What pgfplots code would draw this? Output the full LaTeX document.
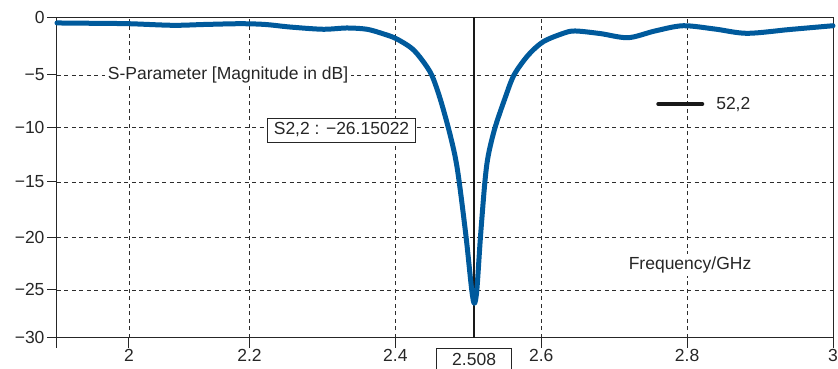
\documentclass[border=0pt]{standalone}
\usepackage{pgfplots}
\pgfplotsset{compat=1.18}
\usepackage{fontspec}
\setmainfont{Liberation Sans}
\definecolor{curveblue}{RGB}{0,90,156}
\definecolor{gridc}{RGB}{45,45,45}
\newcommand{\fs}{\fontsize{17.5bp}{21bp}\selectfont}
\begin{document}
\begin{tikzpicture}
\begin{axis}[
  scale only axis,
  width=776bp, height=320.4bp,
  xmin=1.9361, xmax=3, ymin=-30, ymax=0,
  clip=false,
  axis line style={draw=black!85, line width=1bp},
  xtick={2.0348,2.2,2.4,2.6,2.8,3},
  xticklabels={2,2.2,2.4,2.6,2.8,3},
  ytick={-30,-25.53,-20.6,-15.42,-10.34,-5.40,0},
  yticklabels={−30,−25,−20,−15,−10,−5,0},
  extra x ticks={1.9361}, extra x tick labels={}, extra x tick style={grid=none},
  tick align=outside, major tick length=10bp,
  tick style={black!85, line width=1bp},
  xtick pos=bottom, ytick pos=left,
  grid=major,
  major grid style={gridc, line width=0.8bp, dash pattern=on 4bp off 3.5bp},
  tick label style={font=\fs, text=black!85},
  xticklabel style={yshift=2bp},
  yticklabel style={xshift=1bp},
  legend style={at={(rel axis cs:0.772,0.7294)}, anchor=west, draw=none, fill=none,
    inner sep=0pt, font=\fs, text=black!85,
    cells={anchor=west}},
  legend image code/.code={\draw[#1] (0bp,0bp) -- (44bp,0bp); \path (54bp,0bp);},
]
\addplot[black!90, line width=1.8bp, forget plot] coordinates {(2.508,-30) (2.508,0)};
\addplot[curveblue, line width=5bp, line cap=round, line join=round, smooth, tension=0.5, forget plot] coordinates {
(1.9361,-0.53) (1.9841,-0.56) (2.0348,-0.60) (2.0952,-0.75) (2.139,-0.67) (2.1872,-0.60)
(2.2213,-0.67) (2.2556,-0.91) (2.3008,-1.12) (2.3337,-1.00) (2.3611,-1.12) (2.383,-1.54)
(2.4009,-1.99) (2.4224,-2.90) (2.4366,-4.00) (2.4498,-5.40) (2.4612,-7.58)
(2.4726,-10.34) (2.4815,-12.89) (2.4873,-15.3) (2.4969,-20.54) (2.5047,-25.53) (2.5083,-26.78)
(2.5117,-25.53) (2.5167,-20.54) (2.5229,-15.3) (2.5275,-12.89) (2.5366,-10.34) (2.5503,-7.58)
(2.5627,-5.40) (2.5823,-3.53) (2.6029,-2.28) (2.6303,-1.50) (2.6463,-1.28) (2.6806,-1.52)
(2.719,-1.91) (2.756,-1.28) (2.7944,-0.79) (2.8382,-1.10) (2.8821,-1.50) (2.941,-1.14)
(3.0,-0.79)};
\addlegendimage{black!90, line width=4bp, line cap=round}
\addlegendentry{52,2}
\node[fill=white, inner sep=3bp, text=black!85, font=\fs] at (axis cs:2.1706,-5.40) {S-Parameter [Magnitude in dB]};
\node[fill=white, draw=black!85, line width=0.8bp, inner xsep=6.5bp, inner ysep=2bp, minimum height=24bp, text=black!85, font=\fs] at (axis cs:2.3262,-10.55) {S2,2 : −26.15022};
\node[fill=white, inner sep=3bp, text=black!85, font=\fs] at (axis cs:2.804,-23.19) {Frequency/GHz};
\node[fill=white, draw=black!85, line width=0.8bp, anchor=north, minimum width=75bp, inner ysep=5bp, yshift=-10.6bp, text=black!85, font=\fs] at (axis cs:2.508,-30) {2.508};
\end{axis}
\pgfresetboundingbox
\useasboundingbox (-57bp,-31.3bp) rectangle (781bp,337.7bp);
\end{tikzpicture}
\end{document}
